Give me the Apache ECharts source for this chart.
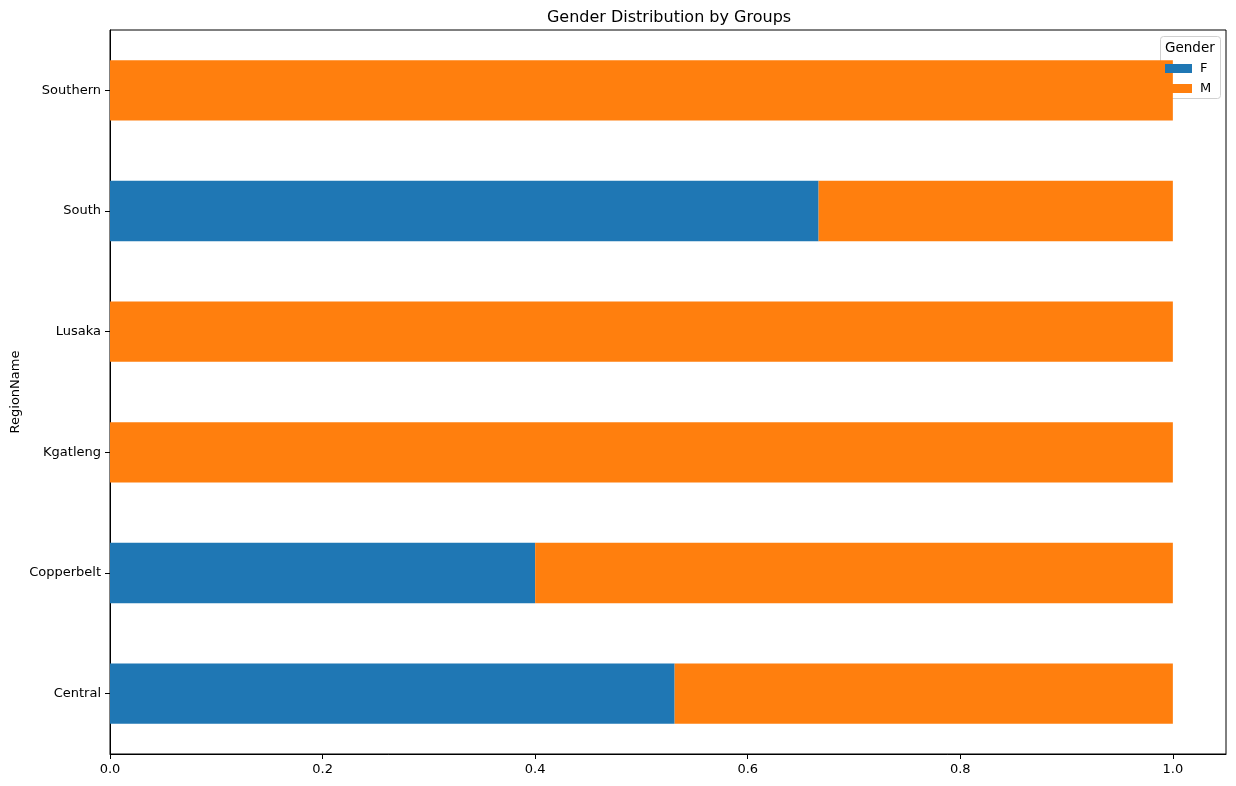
<!DOCTYPE html>
<html>
<head>
<meta charset="utf-8">
<script src="https://cdn.jsdelivr.net/npm/echarts@6/dist/echarts.min.js"></script>
<style>html,body{margin:0;padding:0;background:#fff}#c{width:1236px;height:786px}</style>
</head>
<body>
<div id="c"></div>
<script>
const categories = ['Central', 'Copperbelt', 'Kgatleng', 'Lusaka', 'South', 'Southern'];
const femaleShare = [0.53125, 0.4, 0, 0, 0.6667, 0];
const maleShare = [0.46875, 0.6, 1, 1, 0.3333, 1];
const xTicks = [0, 0.2, 0.4, 0.6, 0.8, 1.0];

const FONT = 'DejaVu Sans';
const chart = echarts.init(document.getElementById('c'), null, {renderer: 'canvas'});
chart.setOption({
  animation: false,
  backgroundColor: '#fff',
  textStyle: {fontFamily: FONT},
  title: {
    text: 'Gender Distribution by Groups',
    left: 664, top: 5, textAlign: 'center',
    textStyle: {fontFamily: FONT, fontSize: 16, fontWeight: 'normal', color: '#000'}
  },
  grid: {left: 110, right: 10, top: 30, bottom: 32, containLabel: false, outerBoundsMode: 'none',
         show: true, borderColor: '#000', borderWidth: 1},
  xAxis: {
    type: 'value', min: 0, max: 1.05,
    axisLine: {show: true, onZero: false, lineStyle: {color: '#000', width: 1}},
    axisTick: {show: true, length: 5, lineStyle: {color: '#000'}, customValues: xTicks},
    axisLabel: {
      fontFamily: FONT, fontSize: 13, color: '#000', margin: 9,
      customValues: xTicks,
      formatter: v => Number(v).toFixed(1)
    },
    splitLine: {show: false}
  },
  yAxis: {
    type: 'category', data: categories,
    name: 'RegionName', nameLocation: 'middle', nameGap: 94, nameRotate: 90, nameMoveOverlap: false,
    nameTextStyle: {fontFamily: FONT, fontSize: 13, color: '#000', verticalAlign: 'middle'},
    axisLine: {show: true, lineStyle: {color: '#000', width: 1}},
    axisTick: {show: true, alignWithLabel: true, length: 5, lineStyle: {color: '#000'}},
    axisLabel: {fontFamily: FONT, fontSize: 13, color: '#000', margin: 9},
    splitLine: {show: false}
  },
  legend: {
    orient: 'vertical', left: 1165, top: 62, padding: 0,
    itemWidth: 27, itemHeight: 9, itemGap: 7,
    icon: 'rect',
    textStyle: {fontFamily: FONT, fontSize: 13, color: '#000', padding: [0,0,0,3], lineHeight: 13},
    data: ['F', 'M']
  },
  graphic: [
    {type: 'rect', shape: {x: 1160.5, y: 36.5, width: 60, height: 62, r: 3},
     style: {fill: 'rgba(255,255,255,0.8)', stroke: '#d0d0d0', lineWidth: 1}, z: 0},
    {type: 'text', left: 1165, top: 41,
     style: {text: 'Gender', font: '13.5px "DejaVu Sans"', fill: '#000'}, z: 10}
  ],
  series: [
    {name: 'F', type: 'bar', stack: 'g', data: femaleShare, barWidth: '50%',
     itemStyle: {color: '#1f77b4'}, z: 2},
    {name: 'M', type: 'bar', stack: 'g', data: maleShare, barWidth: '50%',
     itemStyle: {color: '#ff7f0e'}, z: 2}
  ]
});
</script>
</body>
</html>
